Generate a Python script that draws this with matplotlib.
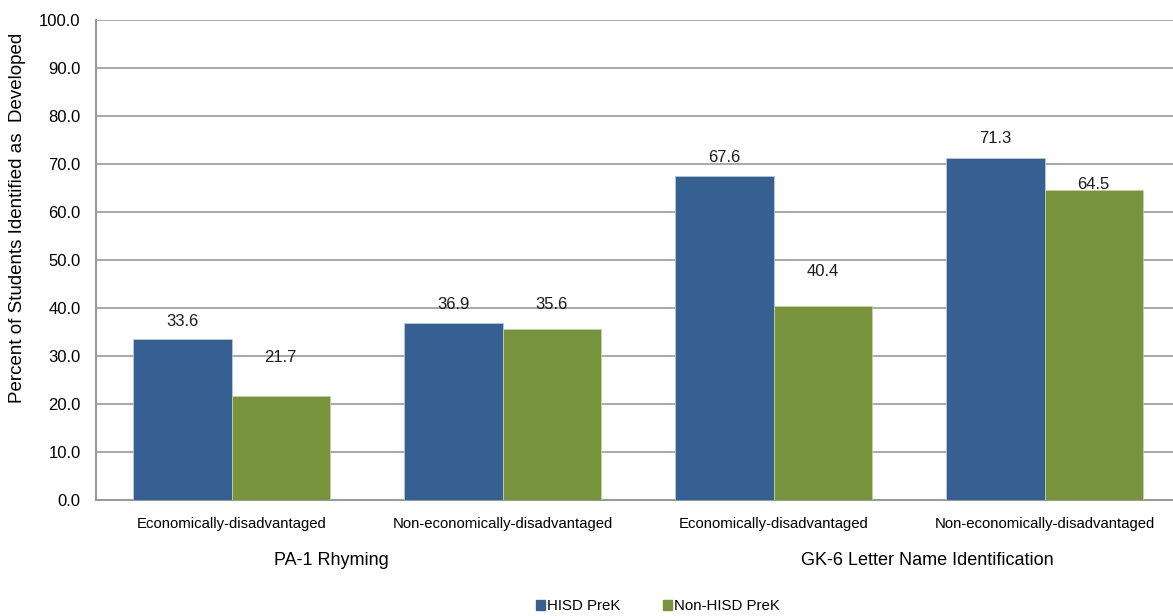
import numpy as np
import matplotlib
matplotlib.use("Agg")
import matplotlib.pyplot as plt
from matplotlib.patches import Patch

# Percent of students identified as developed, by subgroup
categories = [
    "Economically-disadvantaged",
    "Non-economically-disadvantaged",
    "Economically-disadvantaged",
    "Non-economically-disadvantaged",
]
measures = ["PA-1 Rhyming", "GK-6 Letter Name Identification"]
hisd_prek = [33.6, 36.9, 67.6, 71.3]
non_hisd_prek = [21.7, 35.6, 40.4, 64.5]
series_names = ["HISD PreK", "Non-HISD PreK"]

# label lift above each bar, in pixels
hisd_label_lift = [17, 18, 18, 19]
non_hisd_label_lift = [38, 25, 35, 6]

# horizontal nudge of each measure name from its pair centre (category units)
measure_shift = [-0.13, 0.066]

BLUE = "#366092"
GREEN = "#77933C"
GRID = "#9a9a9a"

plt.rcParams["font.family"] = ["Liberation Sans", "DejaVu Sans"]

fig = plt.figure(figsize=(11.73, 6.16), dpi=100)
ax = fig.add_axes([96 / 1173, 1 - 500 / 616, 1 - 96 / 1173, 480 / 616])

x = np.arange(len(categories))
width = 0.362

bars_h = ax.bar(x - width / 2, hisd_prek, width, color=BLUE,
                edgecolor="#b8c7dc", linewidth=0.6, zorder=3)
bars_n = ax.bar(x + width / 2, non_hisd_prek, width, color=GREEN,
                edgecolor="#c3d0a8", linewidth=0.6, zorder=3)

for bars, values, lifts in [(bars_h, hisd_prek, hisd_label_lift),
                            (bars_n, non_hisd_prek, non_hisd_label_lift)]:
    for bar, value, lift in zip(bars, values, lifts):
        ax.annotate(f"{value:.1f}",
                    (bar.get_x() + bar.get_width() / 2, value),
                    xytext=(0, lift), textcoords="offset pixels",
                    ha="center", va="center", fontsize=12, color="#1a1a1a")

ax.set_ylim(0, 100)
ax.set_yticks(np.arange(0, 101, 10))
ax.set_yticklabels([f"{v:.1f}" for v in np.arange(0, 101, 10)], fontsize=12)
ax.set_xlim(-0.5, 3.5 - 7 / 271)
ax.set_xticks(x)
ax.set_xticklabels(categories, fontsize=10.7)
ax.tick_params(axis="x", length=0, pad=12)
ax.tick_params(axis="y", length=0, pad=11)

ax.yaxis.grid(True, color=GRID, linewidth=1.2, zorder=0)
ax.set_axisbelow(True)
for side in ["top", "right"]:
    ax.spines[side].set_visible(False)
for side in ["left", "bottom"]:
    ax.spines[side].set_color(GRID)
    ax.spines[side].set_linewidth(1.5)

ax.set_ylabel("Percent of Students Identified as  Developed", fontsize=13.5)
ax.yaxis.set_label_coords(-70 / 1077, (500 - 218) / 480)

# measure names under each pair of subgroups
for i, name in enumerate(measures):
    ax.text(2 * i + 0.5 + measure_shift[i], -12.7, name, transform=ax.transData,
            ha="center", va="center", fontsize=13, clip_on=False)

handles = [Patch(color=BLUE), Patch(color=GREEN)]
fig.legend(handles, series_names, loc="center", bbox_to_anchor=(658 / 1173, 1 - 606 / 616),
           ncol=2, frameon=False, fontsize=10.8, handlelength=0.62, handleheight=0.62,
           handletextpad=0.15, columnspacing=2.8, borderpad=0, borderaxespad=0)

fig.savefig("out.png", dpi=100)
